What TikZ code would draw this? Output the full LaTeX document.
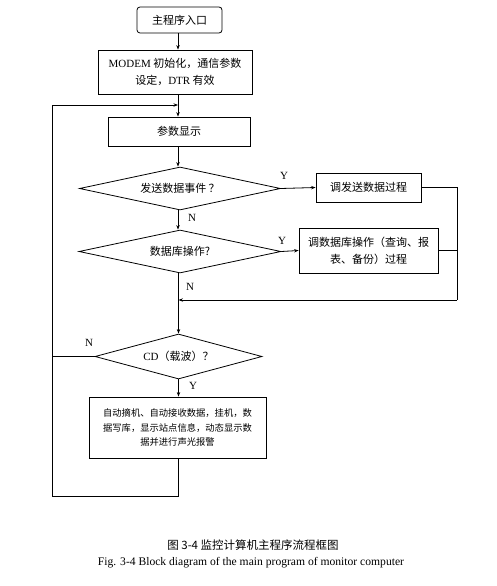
\documentclass[tikz,border=0pt]{standalone}
\usepackage{fontspec}
\setmainfont{Liberation Serif}
\newfontfamily\cjk{Noto Sans CJK SC}
\usetikzlibrary{shapes.geometric,arrows.meta}
\begin{document}
\begin{tikzpicture}[x=1pt,y=-1pt,line width=0.8pt,
  box/.style={draw,rectangle,inner sep=0,align=center,font=\cjk\fontsize{11}{17}\selectfont},
  dia/.style={draw,diamond,inner sep=0},
  dtext/.style={inner sep=0,font=\cjk\fontsize{11}{13}\selectfont},
  lbl/.style={inner sep=0,font=\fontsize{11}{13}\selectfont},
  arr/.style={-{Stealth[length=4.5pt,width=3.4pt]}}]
\useasboundingbox (0,0) rectangle (496,586);
% nodes
\node[box,rounded corners=3pt,minimum width=85pt,minimum height=26pt] (start) at (179.5,20) {主程序入口};
\node[box,minimum width=154pt,minimum height=44pt] (init) at (175,72) {{\rmfamily MODEM} 初始化，通信参数\\设定，{\rmfamily DTR} 有效};
\node[box,minimum width=142pt,minimum height=29pt] (disp) at (179,131.5) {参数显示};
\node[dia,minimum width=201pt,minimum height=43pt] (d1) at (180,188.5) {};
\node[dtext] (d1t) at (d1) {发送数据事件 ？};
\node[box,minimum width=105pt,minimum height=29pt] (b1) at (368.5,187.5) {调发送数据过程};
\node[dia,minimum width=202pt,minimum height=43pt] (d2) at (180,251.5) {};
\node[dtext] (d2t) at (d2) {数据库操作?};
\node[box,minimum width=139pt,minimum height=45pt] (b2) at (368.5,250.5) {调数据库操作（查询、报\\表、备份）过程};
\node[dia,minimum width=167pt,minimum height=45pt] (cd) at (178.5,356.5) {};
\node[dtext] (cdt) at (cd) {{\rmfamily CD}（载波）？};
\node[box,minimum width=177pt,minimum height=61pt,font=\cjk\fontsize{9.3}{14.5}\selectfont] (act) at (177.5,427.5) {自动摘机、自动接收数据，挂机，数\\据写库，显示站点信息，动态显示数\\据并进行声光报警};
% labels
\node[lbl] (y1) at (284,176) {Y};
\node[lbl] (n1) at (192,218) {N};
\node[lbl] (y2) at (282,241) {Y};
\node[lbl] (n2) at (190,287) {N};
\node[lbl] (n3) at (89,343) {N};
\node[lbl] (y3) at (193,386) {Y};
% coordinates
\coordinate (loopin) at (178,105);
\coordinate (lbot) at (52,496);
\coordinate (rtop) at (457,187.5);
\coordinate (rmid) at (457,250.5);
\coordinate (rbot) at (457,300);
\coordinate (join) at (178.5,300);
\coordinate (cdl) at (52,356.5);
% connectors
\draw[arr] (start.south -| loopin) -- (init.north -| loopin);
\draw[arr] (init.south -| loopin) -- (disp.north -| loopin);
\draw[arr] (disp.south -| loopin) -- (d1.north -| loopin);
\draw[arr] (d1.east) -- (b1.west);
\draw[arr] (d1.south -| loopin) -- (d2.north -| loopin);
\draw[arr] (d2.east) -- (b2.west);
\draw (b1.east) -- (rtop) -- (rbot);
\draw (b2.east) -- (rmid);
\draw[arr] (rbot) -- (join);
\draw[arr] (d2.south -| join) -- (cd.north);
\draw (cd.west) -- (cdl);
\draw[arr] (cd.south) -- (act.north -| cd.south);
\draw[arr] (act.south -| join) |- (lbot) |- (loopin);
% caption
\node[inner sep=0,font=\cjk\fontsize{11.5}{13}\selectfont] (cap1) at (253,545) {图 3-4 监控计算机主程序流程框图};
\node[inner sep=0,font=\fontsize{11.6}{13}\selectfont] (cap2) at (251,563) {Fig. 3-4 Block diagram of the main program of monitor computer};
\end{tikzpicture}
\end{document}
